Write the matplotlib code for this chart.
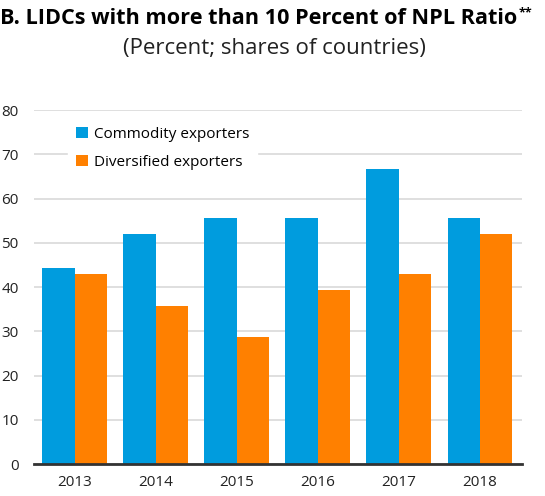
import matplotlib.pyplot as plt
import numpy as np

plt.rcParams['font.family'] = ['Open Sans', 'DejaVu Sans']

years = ['2013', '2014', '2015', '2016', '2017', '2018']
commodity = [44.4, 51.9, 55.6, 55.6, 66.7, 55.6]
diversified = [42.9, 35.7, 28.6, 39.3, 42.9, 51.9]

fig = plt.figure(figsize=(5.45, 4.96), dpi=100)
ax = fig.add_axes([0.0624, 0.0645, 0.8956, 0.7137])

x = np.arange(len(years))
w = 0.4
ax.bar(x - w / 2, commodity, w, color='#009CDE', label='Commodity exporters', zorder=3)
ax.bar(x + w / 2, diversified, w, color='#FF8000', label='Diversified exporters', zorder=3)

ax.set_xlim(-0.5, 5.52)
ax.set_ylim(0, 80)
ax.set_yticks(range(0, 81, 10))
ax.set_xticks(x)
ax.set_xticklabels(years)
ax.grid(axis='y', color='#d9d9d9', linewidth=1.2, zorder=0)
ax.tick_params(axis='both', length=0, labelsize=11, colors='#222222')
ax.tick_params(axis='y', pad=11)
ax.tick_params(axis='x', pad=8)
for s in ['top', 'right', 'left']:
    ax.spines[s].set_visible(False)
ax.spines['bottom'].set_linewidth(2)
ax.spines['bottom'].set_color('#333333')
ax.spines['bottom'].set_zorder(4)

leg = ax.legend(loc='upper left', bbox_to_anchor=(0.055, 0.995), frameon=True,
                fontsize=11, handlelength=0.75, handleheight=0.75,
                handletextpad=0.4, labelspacing=0.85, borderpad=0.5)
leg.get_frame().set_edgecolor('white')
leg.get_frame().set_facecolor('white')
leg.get_frame().set_alpha(1)
leg.set_zorder(5)

# title with a small raised "**" after it
title = fig.text(0.0, 0.962, 'B. LIDCs with more than 10 Percent of NPL Ratio',
                 fontsize=15.6, fontweight='bold', va='center', ha='left')
r = fig.canvas.get_renderer()
bb = title.get_window_extent(renderer=r).transformed(fig.transFigure.inverted())
fig.text(bb.x1 + 0.002, 0.975, '**', fontsize=9, fontweight='bold',
         va='center', ha='left')
fig.text(0.503, 0.902, '(Percent; shares of countries)', fontsize=16,
         va='center', ha='center', color='#222222')

fig.savefig('out.png', dpi=100)
